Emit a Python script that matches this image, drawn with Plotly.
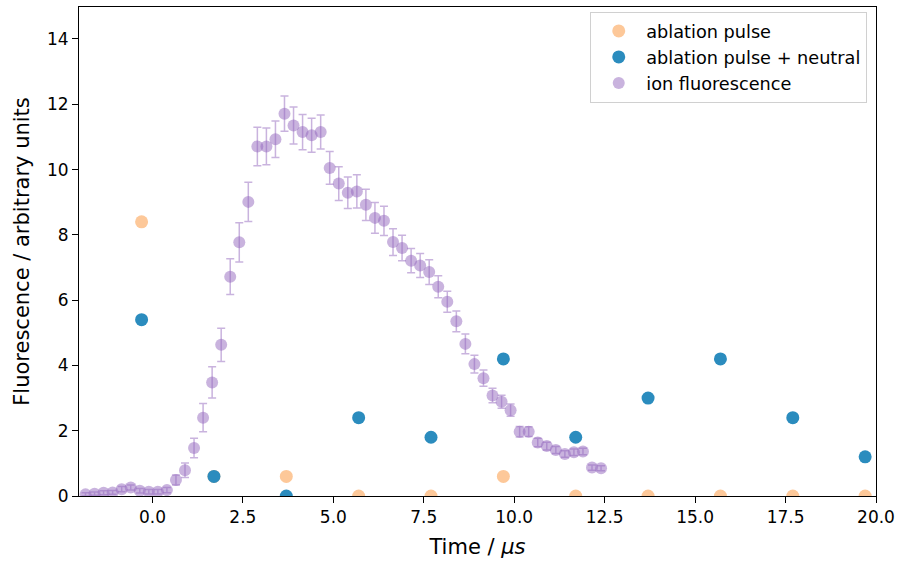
import plotly.graph_objects as go

# ---- data ----
pulse_times = [-0.3, 1.7, 3.7, 5.7, 7.7, 9.7, 11.7, 13.7, 15.7, 17.7, 19.7]
ablation_pulse = [8.4, 0.6, 0.6, 0.0, 0.0, 0.6, 0.0, 0.0, 0.0, 0.0, 0.0]
ablation_neutral = [5.4, 0.6, 0.0, 2.4, 1.8, 4.2, 1.8, 3.0, 4.2, 2.4, 1.2]

ion_time = [-1.85, -1.6, -1.35, -1.1, -0.85, -0.6, -0.35, -0.1, 0.15, 0.4,
            0.65, 0.9, 1.15, 1.4, 1.65, 1.9, 2.15, 2.4, 2.65, 2.9,
            3.15, 3.4, 3.65, 3.9, 4.15, 4.4, 4.65, 4.9, 5.15, 5.4,
            5.65, 5.9, 6.15, 6.4, 6.65, 6.9, 7.15, 7.4, 7.65, 7.9,
            8.15, 8.4, 8.65, 8.9, 9.15, 9.4, 9.65, 9.9, 10.15, 10.4,
            10.65, 10.9, 11.15, 11.4, 11.65, 11.9, 12.15, 12.4]
ion_fluor = [0.05, 0.07, 0.10, 0.11, 0.21, 0.26, 0.16, 0.13, 0.13, 0.18,
             0.49, 0.79, 1.47, 2.40, 3.48, 4.63, 6.72, 7.77, 9.01, 10.71,
             10.71, 10.93, 11.71, 11.35, 11.15, 11.05, 11.15, 10.05, 9.57, 9.29,
             9.33, 8.92, 8.52, 8.43, 7.78, 7.60, 7.21, 7.06, 6.86, 6.41,
             5.95, 5.35, 4.66, 4.04, 3.61, 3.08, 2.89, 2.63, 1.97, 1.97,
             1.64, 1.53, 1.41, 1.29, 1.34, 1.36, 0.87, 0.85]
ion_err = [0.05, 0.05, 0.06, 0.06, 0.08, 0.08, 0.07, 0.07, 0.07, 0.08,
           0.15, 0.22, 0.30, 0.43, 0.48, 0.51, 0.55, 0.60, 0.60, 0.59,
           0.56, 0.56, 0.54, 0.57, 0.54, 0.52, 0.52, 0.50, 0.52, 0.48,
           0.51, 0.48, 0.47, 0.45, 0.41, 0.39, 0.37, 0.37, 0.38, 0.34,
           0.32, 0.32, 0.30, 0.27, 0.25, 0.22, 0.20, 0.19, 0.16, 0.15,
           0.13, 0.12, 0.11, 0.10, 0.10, 0.10, 0.08, 0.08]

x_ticks = [0, 2.5, 5, 7.5, 10, 12.5, 15, 17.5, 20]
x_tick_labels = ["0.0", "2.5", "5.0", "7.5", "10.0", "12.5", "15.0", "17.5", "20.0"]
y_ticks = [0, 2, 4, 6, 8, 10, 12, 14]

FONT = "DejaVu Sans"

fig = go.Figure()
fig.add_trace(go.Scatter(
    x=pulse_times, y=ablation_pulse, mode="markers", name="ablation pulse",
    marker=dict(size=13, color="rgb(253,200,153)", line=dict(width=0)),
))
fig.add_trace(go.Scatter(
    x=pulse_times, y=ablation_neutral, mode="markers", name="ablation pulse + neutral",
    marker=dict(size=13, color="rgb(43,140,190)", line=dict(width=0)),
))
fig.add_trace(go.Scatter(
    x=ion_time, y=ion_fluor, mode="markers", name="ion fluorescence",
    marker=dict(size=12, color="rgba(148,103,189,0.5)", line=dict(width=0)),
    error_y=dict(type="data", array=ion_err, visible=True,
                 color="rgba(148,103,189,0.5)", thickness=1.5, width=4),
))

axis_common = dict(
    showline=True, linecolor="black", linewidth=1, mirror=True,
    ticks="outside", ticklen=6, tickwidth=1, tickcolor="black",
    showgrid=False, zeroline=False,
    tickfont=dict(family=FONT, size=17, color="black"),
)

fig.update_layout(
    width=901, height=561,
    margin=dict(l=79, r=21, t=6, b=65),
    plot_bgcolor="white", paper_bgcolor="white",
    font=dict(family=FONT, color="black"),
    xaxis=dict(range=[-2.03, 20], tickvals=x_ticks, ticktext=x_tick_labels,
               title=dict(text="Time / <i>μs</i>", font=dict(family=FONT, size=21), standoff=12),
               **axis_common),
    yaxis=dict(range=[0, 14.98], tickvals=y_ticks,
               title=dict(text="Fluorescence / arbitrary units", font=dict(family=FONT, size=21), standoff=11),
               **axis_common),
    legend=dict(x=0.989, y=0.99, xanchor="right", yanchor="top",
                bgcolor="rgba(255,255,255,0.8)", bordercolor="#d0d0d0", borderwidth=1,
                font=dict(family=FONT, size=17.7, color="black"),
                itemwidth=45, tracegroupgap=0),
    showlegend=True,
)

fig.write_html("out.html")
